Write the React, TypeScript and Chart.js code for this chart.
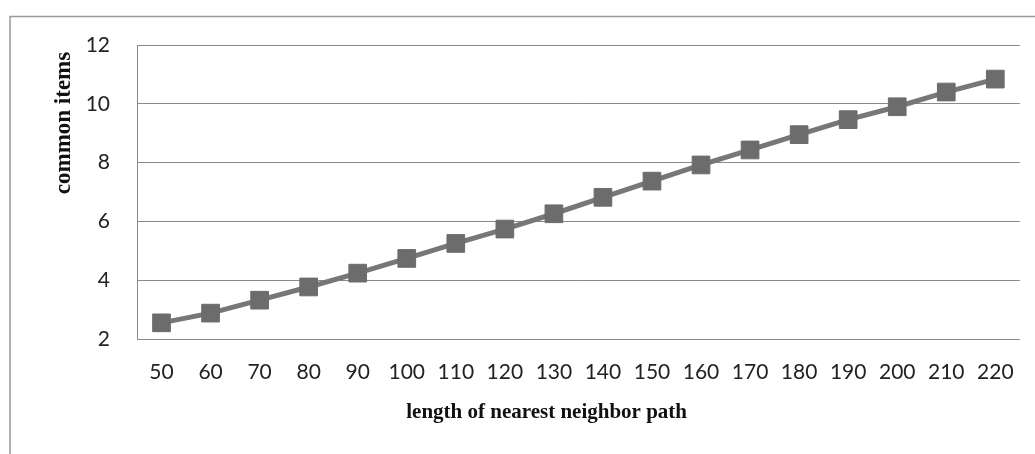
import React, { useEffect, useRef } from "react";
import { Chart, registerables } from "chart.js";

Chart.register(...registerables);

// Path length (x) and number of common items (y)
const pathLengths: string[] = [
  "50", "60", "70", "80", "90", "100", "110", "120", "130",
  "140", "150", "160", "170", "180", "190", "200", "210", "220",
];
const commonItems: number[] = [
  2.55, 2.88, 3.32, 3.77, 4.24, 4.74, 5.25, 5.74, 6.26,
  6.82, 7.37, 7.92, 8.43, 8.95, 9.46, 9.9, 10.4, 10.84,
];
const yTicks: number[] = [2, 4, 6, 8, 10, 12];

const xTitle = "length of nearest neighbor path";
const yTitle = "common items";

const tickFont = { family: "Lato, 'Open Sans', sans-serif", size: 21 };

// Frame around the figure plus the two bold serif axis titles
const decorPlugin = {
  id: "decor",
  beforeDraw(chart: Chart) {
    const ctx = chart.ctx;
    ctx.save();
    ctx.strokeStyle = "#9a9a9a";
    ctx.lineWidth = 1.5;
    ctx.strokeRect(10, 16.5, 1200, 1000);
    ctx.restore();
  },
  afterDraw(chart: Chart) {
    const { ctx, chartArea } = chart;
    ctx.save();
    ctx.fillStyle = "#111";
    ctx.font = "bold 21px 'Liberation Serif', 'Times New Roman', serif";
    ctx.textAlign = "center";
    ctx.textBaseline = "alphabetic";
    ctx.fillText(xTitle, chartArea.left + chartArea.width * 0.464, chartArea.bottom + 79);

    ctx.translate(70, chartArea.top + 78);
    ctx.rotate(-Math.PI / 2);
    ctx.font = "bold 23px 'Liberation Serif', 'Times New Roman', serif";
    ctx.fillText(yTitle, 0, 0);
    ctx.restore();
  },
};

export default function App() {
  const canvasRef = useRef<HTMLCanvasElement | null>(null);

  useEffect(() => {
    if (!canvasRef.current) return;
    const chart = new Chart(canvasRef.current, {
      type: "line",
      data: {
        labels: pathLengths,
        datasets: [
          {
            data: commonItems,
            borderColor: "#777777",
            borderWidth: 5,
            pointStyle: "rect",
            pointRadius: 12.5,
            pointBackgroundColor: "#6c6c6c",
            pointBorderColor: "#6c6c6c",
            pointBorderWidth: 1,
            tension: 0,
          },
        ],
      },
      options: {
        animation: false,
        responsive: true,
        maintainAspectRatio: false,
        layout: { padding: { left: 0, top: 45, right: 15, bottom: 0 } },
        plugins: {
          legend: { display: false },
          tooltip: { enabled: false },
        },
        scales: {
          x: {
            type: "category",
            offset: true,
            grid: { display: false, drawTicks: false },
            border: { display: false },
            ticks: {
              color: "#222",
              font: tickFont,
              padding: 21,
              maxRotation: 0,
              autoSkip: false,
            },
            afterFit(scale: any) {
              scale.height = 115;
            },
          },
          y: {
            min: 2,
            max: 12,
            afterBuildTicks(scale: any) {
              scale.ticks = yTicks.map((v) => ({ value: v }));
            },
            grid: { color: "#8a8a8a", lineWidth: 1, drawTicks: false },
            border: { display: true, color: "#8a8a8a", width: 1 },
            ticks: {
              color: "#222",
              font: tickFont,
              padding: 27,
            },
            afterFit(scale: any) {
              scale.width = 137;
            },
          },
        },
      },
      plugins: [decorPlugin],
    });
    return () => chart.destroy();
  }, []);

  return (
    <div style={{ position: "fixed", left: 0, top: 0, width: 1035, height: 454, background: "#fff" }}>
      <canvas ref={canvasRef} />
    </div>
  );
}
